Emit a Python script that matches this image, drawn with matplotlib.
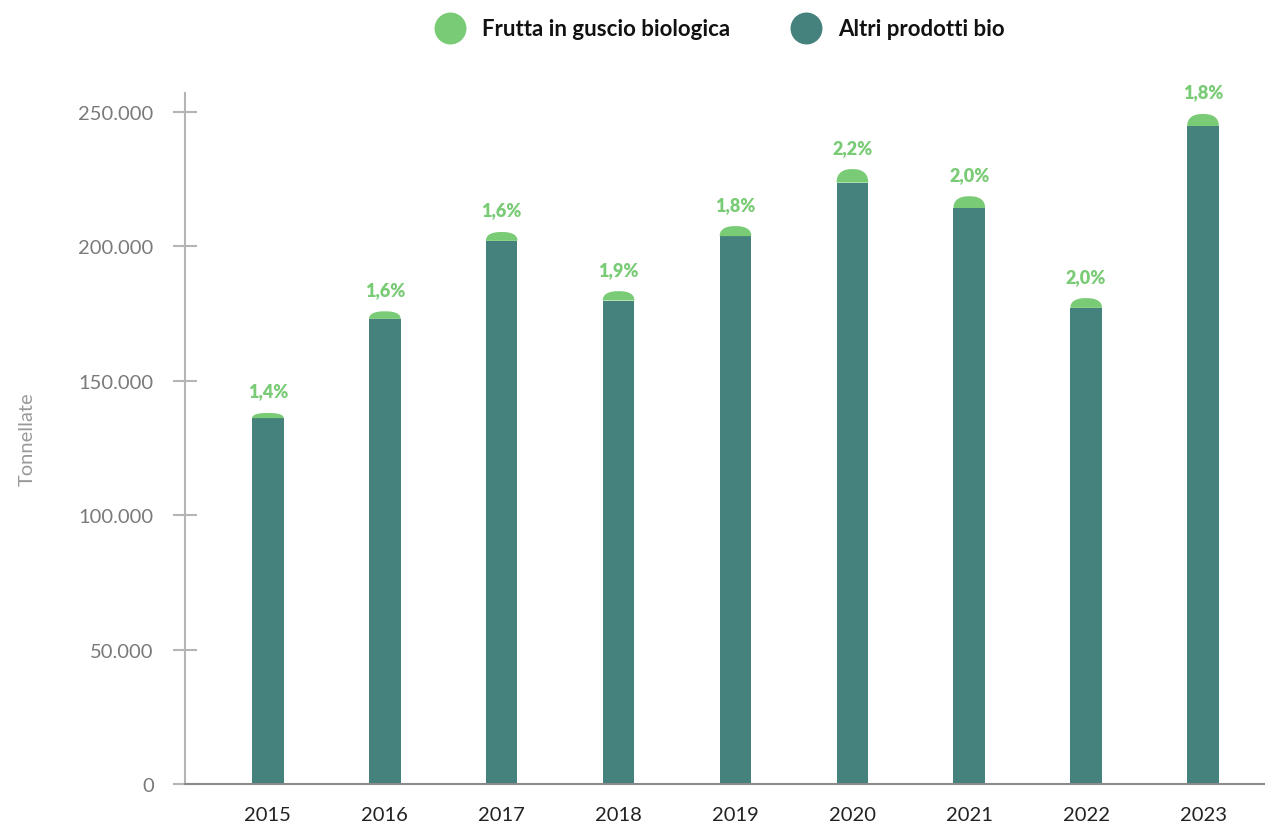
import numpy as np
import matplotlib
matplotlib.use("Agg")
import matplotlib.pyplot as plt
from matplotlib.patches import Polygon
from matplotlib.lines import Line2D
from matplotlib.ticker import FuncFormatter

# data: total organic tonnes per year and share of organic nuts
years = ["2015", "2016", "2017", "2018", "2019", "2020", "2021", "2022", "2023"]
totale = [138000, 175800, 205300, 183300, 207500, 228700, 218600, 180700, 249200]
quota_frutta = [1.4, 1.6, 1.6, 1.9, 1.8, 2.2, 2.0, 2.0, 1.8]

frutta = [t * q / 100 for t, q in zip(totale, quota_frutta)]
altri = [t - f for t, f in zip(totale, frutta)]

VERDE = "#7acb76"
TEAL = "#45817d"
GRIGIO = "#9a9a9a"

plt.rcParams["font.family"] = ["Lato", "DejaVu Sans"]

fig = plt.figure(figsize=(12.65, 8.29), dpi=100)
ax = fig.add_axes([0.1462, 0.0531, 0.8538, 0.8335])

x = np.arange(len(years))
w = 0.27

ax.bar(x, altri, width=w, color=TEAL, zorder=2)

# rounded caps for the nuts share, drawn as a superellipse dome
t = np.linspace(0, np.pi, 60)
n = 2.4
for xi, base, h in zip(x, altri, frutta):
    c = np.cos(t)
    s = np.sin(t)
    px = xi + (w / 2) * np.sign(c) * np.abs(c) ** (2 / n)
    py = base + h * np.abs(s) ** (2 / n)
    pts = np.column_stack([px, py])
    pts = np.vstack([[xi + w / 2, base], pts, [xi - w / 2, base]])
    ax.add_patch(Polygon(pts, closed=True, facecolor=VERDE, edgecolor="none", zorder=2))

for xi, tot, q in zip(x, totale, quota_frutta):
    ax.text(xi, tot + 5000, f"{q:.1f}%".replace(".", ","), ha="center", va="bottom",
            color=VERDE, fontsize=13, fontweight="heavy")

ax.set_xlim(-0.71, 8.53)
ax.set_ylim(0, 257000)
ax.set_yticks([0, 50000, 100000, 150000, 200000, 250000])
ax.yaxis.set_major_formatter(FuncFormatter(lambda v, p: f"{int(v):,}".replace(",", ".")))
ax.set_xticks(x)
ax.set_xticklabels(years)

for side in ["top", "right"]:
    ax.spines[side].set_visible(False)
ax.spines["left"].set_color("#b5b5b5")
ax.spines["left"].set_linewidth(1.5)
ax.spines["bottom"].set_color("#8a8a8a")
ax.spines["bottom"].set_linewidth(1.5)

ax.tick_params(axis="y", direction="inout", length=17, width=1.5, color="#b5b5b5",
               labelsize=14.5, labelcolor="#7a7a7a", pad=14)
ax.tick_params(axis="x", length=0, labelsize=14.5, labelcolor="#222222", pad=16)

ax.set_ylabel("Tonnellate", fontsize=14.5, color=GRIGIO, labelpad=31)

handles = [
    Line2D([], [], marker="o", linestyle="none", markersize=23, markerfacecolor=VERDE,
           markeredgecolor="none", label="Frutta in guscio biologica"),
    Line2D([], [], marker="o", linestyle="none", markersize=23, markerfacecolor=TEAL,
           markeredgecolor="none", label="Altri prodotti bio"),
]
leg = fig.legend(handles=handles, loc="center", bbox_to_anchor=(0.566, 0.964), ncol=2,
                 frameon=False, handletextpad=0.45, columnspacing=2.4,
                 prop={"size": 16, "weight": "bold"})
for txt in leg.get_texts():
    txt.set_color("#111111")

fig.savefig("out.png", dpi=100)
